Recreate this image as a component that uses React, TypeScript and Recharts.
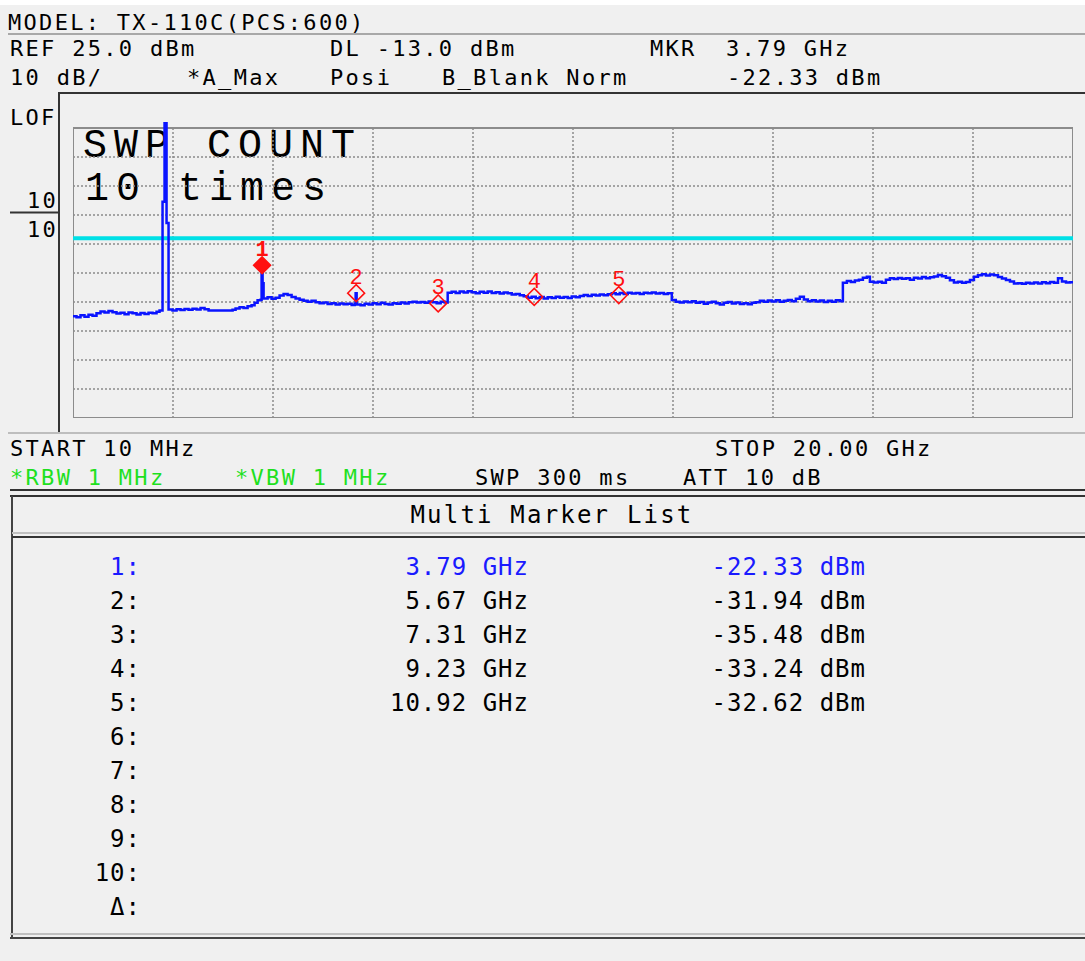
import {
  CartesianGrid,
  Line,
  LineChart,
  ReferenceArea,
  ReferenceDot,
  ReferenceLine,
  XAxis,
  YAxis,
} from "recharts";

// sweep trace: [GHz, dBm]
const sweep: [number, number][] = [
  [0.01, -39.9], [0.08, -40.3], [0.16, -39.6], [0.24, -40.1], [0.32, -39.4], [0.4, -39.7],
  [0.48, -38.9], [0.56, -38.3], [0.64, -38.6], [0.72, -38.1], [0.8, -38.5], [0.88, -39.0],
  [0.96, -38.7], [1.04, -39.2], [1.12, -38.6], [1.2, -38.9], [1.28, -39.3], [1.36, -38.8],
  [1.44, -39.1], [1.52, -38.7], [1.6, -38.9], [1.68, -38.4], [1.74, -37.9],
  [1.8, -0.4], [1.84, 26.6], [1.88, -7.8], [1.92, -37.6],
  [2.0, -37.9], [2.08, -37.5], [2.16, -37.8], [2.24, -37.4], [2.32, -37.7], [2.4, -37.3],
  [2.48, -37.6], [2.56, -37.1], [2.64, -37.5], [2.72, -37.9], [3.2, -37.7], [3.26, -37.2],
  [3.34, -36.8], [3.42, -37.1], [3.5, -36.5], [3.58, -36.1], [3.64, -35.3], [3.7, -34.4],
  [3.76, -34.2], [3.78, -22.33], [3.8, -28.5], [3.82, -33.8], [3.9, -33.4], [3.98, -33.9],
  [4.06, -33.5], [4.14, -32.8], [4.22, -32.2], [4.3, -32.6], [4.38, -33.3], [4.46, -33.8],
  [4.54, -34.2], [4.62, -34.6], [4.7, -34.9], [4.78, -34.6], [4.86, -35.1], [4.94, -35.4],
  [5.02, -35.2], [5.1, -35.7], [5.18, -35.4], [5.26, -35.9], [5.34, -35.5], [5.42, -35.8],
  [5.5, -35.6], [5.58, -36.0], [5.64, -35.7], [5.66, -31.94], [5.68, -35.9], [5.76, -36.1],
  [5.84, -35.6], [5.92, -35.9], [6.0, -35.4], [6.08, -35.8], [6.16, -35.3], [6.24, -35.7],
  [6.32, -35.9], [6.4, -35.4], [6.48, -35.6], [6.56, -35.2], [6.64, -35.5], [6.72, -35.1],
  [6.8, -34.9], [6.88, -35.2], [6.96, -35.0], [7.04, -35.3], [7.12, -34.8], [7.2, -35.1],
  [7.28, -35.4], [7.36, -34.9], [7.44, -35.2], [7.5, -31.8], [7.58, -31.5], [7.66, -31.9],
  [7.74, -31.4], [7.82, -31.7], [7.9, -31.3], [7.98, -31.6], [8.06, -32.0], [8.14, -31.5],
  [8.22, -31.8], [8.3, -31.4], [8.38, -31.9], [8.46, -31.6], [8.54, -32.1], [8.62, -31.7],
  [8.7, -32.0], [8.78, -32.4], [8.86, -32.2], [8.94, -32.7], [9.02, -33.0], [9.1, -33.5],
  [9.18, -33.2], [9.26, -33.7], [9.34, -33.3], [9.42, -33.8], [9.5, -33.4], [9.58, -33.6],
  [9.66, -33.2], [9.74, -33.5], [9.82, -33.3], [9.9, -33.6], [9.98, -33.1], [10.06, -33.4],
  [10.14, -32.9], [10.22, -32.6], [10.3, -32.9], [10.38, -32.5], [10.46, -32.8], [10.54, -32.4],
  [10.62, -32.7], [10.7, -32.3], [10.78, -32.0], [10.86, -32.3], [10.94, -31.9], [11.02, -32.2],
  [11.1, -31.8], [11.18, -32.1], [11.26, -31.9], [11.34, -32.2], [11.42, -31.8], [11.5, -32.0],
  [11.58, -31.7], [11.66, -32.1], [11.74, -31.9], [11.82, -32.2], [11.9, -32.0], [11.98, -34.3],
  [12.06, -34.9], [12.14, -35.2], [12.22, -34.8], [12.3, -35.1], [12.38, -34.7], [12.46, -35.3],
  [12.54, -35.0], [12.62, -35.6], [12.7, -35.2], [12.78, -34.9], [12.86, -35.4], [12.94, -35.9],
  [13.02, -35.3], [13.1, -35.0], [13.18, -35.5], [13.26, -35.2], [13.34, -35.7], [13.42, -35.4],
  [13.5, -35.8], [13.58, -35.3], [13.66, -35.1], [13.74, -34.6], [13.82, -34.9], [13.9, -34.5],
  [13.98, -34.8], [14.06, -34.4], [14.14, -34.9], [14.22, -34.6], [14.3, -34.3], [14.38, -34.7],
  [14.46, -33.9], [14.54, -33.2], [14.62, -34.1], [14.7, -34.7], [14.78, -34.4], [14.86, -34.8],
  [14.94, -34.5], [15.02, -35.0], [15.1, -34.6], [15.18, -34.9], [15.26, -34.4], [15.34, -34.7],
  [15.4, -28.4], [15.48, -27.8], [15.56, -28.1], [15.64, -27.6], [15.72, -27.3], [15.8, -26.6],
  [15.88, -26.3], [15.94, -28.0], [16.02, -28.3], [16.1, -28.0], [16.18, -28.4], [16.26, -27.3],
  [16.34, -26.8], [16.42, -27.1], [16.5, -26.7], [16.58, -27.0], [16.66, -26.8], [16.74, -27.3],
  [16.82, -26.6], [16.9, -26.9], [16.98, -26.4], [17.06, -26.8], [17.14, -26.5], [17.22, -26.2],
  [17.3, -25.7], [17.38, -26.1], [17.46, -26.6], [17.54, -27.5], [17.62, -28.3], [17.7, -28.0],
  [17.78, -28.4], [17.86, -28.1], [17.94, -27.4], [18.02, -26.3], [18.1, -25.8], [18.18, -25.4],
  [18.26, -25.9], [18.34, -25.5], [18.42, -25.8], [18.5, -26.4], [18.58, -26.9], [18.66, -27.4],
  [18.74, -27.9], [18.82, -28.6], [18.9, -28.5], [18.98, -28.7], [19.06, -28.4], [19.14, -28.6],
  [19.22, -28.3], [19.3, -28.6], [19.38, -28.2], [19.46, -28.5], [19.54, -28.1], [19.62, -28.4],
  [19.7, -26.8], [19.78, -27.9], [19.86, -28.3], [19.94, -28.2], [20.0, -28.2],
];

const markerNo = [1, 2, 3, 4, 5];
const markerGHz = [3.79, 5.67, 7.31, 9.23, 10.92];
const markerDbm = [-22.33, -31.94, -35.48, -33.24, -32.62];
const listLabels = ["1:", "2:", "3:", "4:", "5:", "6:", "7:", "8:", "9:", "10:", "Δ:"];

const startGHz = 0.01;
const stopGHz = 20;
const refDbm = 25;
const bottomDbm = -75;
const dlDbm = -13;
const gridGHz = [2.009, 4.008, 6.007, 8.006, 10.005, 12.004, 14.003, 16.002, 18.001];
const gridDbm = [15, 5, -5, -15, -25, -35, -45, -55, -65];

const data = sweep.map(([f, dbm]) => ({ f, dbm }));

const MONO = "'DejaVu Sans Mono', monospace";
const COUR = "'Liberation Mono', monospace";
const RED = "#ff1010";

function Txt({
  x,
  y,
  children,
  fill = "#000",
  size = 22,
  ls = 2.3,
  anchor = "start",
  family = MONO,
}: any) {
  return (
    <text
      x={x}
      y={y}
      fill={fill}
      fontSize={size}
      letterSpacing={ls}
      textAnchor={anchor}
      fontFamily={family}
    >
      {children}
    </text>
  );
}

function MarkerShape(props: any) {
  const { cx, cy, n } = props;
  const s = 8.5;
  const d = `M${cx},${cy - s} L${cx + s},${cy} L${cx},${cy + s} L${cx - s},${cy} Z`;
  const active = n === 1;
  return (
    <g>
      <path
        d={d}
        fill={active ? RED : "none"}
        stroke={RED}
        strokeWidth={1.5}
      />
      <text
        x={cx}
        y={cy - 9}
        fill={RED}
        fontSize={22}
        fontWeight={active ? "bold" : "normal"}
        fontFamily={COUR}
        textAnchor="middle"
      >
        {n}
      </text>
    </g>
  );
}

function Screen() {
  const rowY = (i: number) => 575 + i * 34;
  return (
    <svg width={1085} height={961} style={{ position: "absolute", left: 0, top: 0 }}>
      <rect x={0} y={0} width={1085} height={961} fill="#f0f0f0" />
      <rect x={0} y={0} width={1085} height={5} fill="#ffffff" />

      {/* frame lines */}
      <line x1={8} y1={34} x2={1085} y2={34} stroke="#a8a8a8" strokeWidth={2} />
      <line x1={59} y1={93} x2={1085} y2={93} stroke="#333" strokeWidth={2} />
      <line x1={59} y1={92} x2={59} y2={432} stroke="#333" strokeWidth={2} />
      <line x1={10} y1={212.5} x2={59} y2={212.5} stroke="#333" strokeWidth={2} />
      <line x1={8} y1={433} x2={1085} y2={433} stroke="#bdbdbd" strokeWidth={2} />
      <line x1={10} y1={490} x2={1085} y2={490} stroke="#333" strokeWidth={2} />
      <line x1={10} y1={496} x2={1085} y2={496} stroke="#333" strokeWidth={2} />
      <line x1={12} y1={496} x2={12} y2={938} stroke="#444" strokeWidth={2} />
      <line x1={12} y1={533} x2={1085} y2={533} stroke="#c0c0c0" strokeWidth={2} />
      <line x1={12} y1={537} x2={1085} y2={537} stroke="#333" strokeWidth={2} />
      <line x1={10} y1={934} x2={1085} y2={934} stroke="#c0c0c0" strokeWidth={2} />
      <line x1={10} y1={938} x2={1085} y2={938} stroke="#444" strokeWidth={2} />

      {/* header */}
      <Txt x={8} y={30}>MODEL: TX-110C(PCS:600)</Txt>
      <Txt x={10} y={56}>REF 25.0 dBm</Txt>
      <Txt x={330} y={56}>DL -13.0 dBm</Txt>
      <Txt x={650} y={56}>MKR</Txt>
      <Txt x={726} y={56}>3.79 GHz</Txt>
      <Txt x={10} y={85}>10 dB/</Txt>
      <Txt x={187} y={85}>*A_Max</Txt>
      <Txt x={330} y={85}>Posi</Txt>
      <Txt x={442} y={85}>B_Blank Norm</Txt>
      <Txt x={727} y={85}>-22.33 dBm</Txt>

      {/* left scale box */}
      <Txt x={10} y={125}>LOF</Txt>
      <Txt x={58} y={208} anchor="end">10</Txt>
      <Txt x={58} y={237} anchor="end">10</Txt>

      {/* sweep count overlay */}
      <Txt x={83} y={157} size={40} ls={7} family={COUR}>SWP COUNT</Txt>
      <Txt x={85} y={200} size={40} ls={7} family={COUR}>10 times</Txt>

      {/* footer of graticule */}
      <Txt x={10} y={456}>START 10 MHz</Txt>
      <Txt x={715} y={456}>STOP 20.00 GHz</Txt>
      <Txt x={10} y={485} fill="#1ee01e">*RBW 1 MHz</Txt>
      <Txt x={235} y={485} fill="#1ee01e">*VBW 1 MHz</Txt>
      <Txt x={475} y={485}>SWP 300 ms</Txt>
      <Txt x={683} y={485}>ATT 10 dB</Txt>

      <Txt x={552} y={523} anchor="middle" size={24} ls={2.2}>Multi Marker List</Txt>

      {/* marker list */}
      {listLabels.map((lab, i) => {
        const active = i === 0;
        const col = active ? "#1a1aff" : "#000";
        return (
          <g key={lab}>
            <Txt x={141} y={rowY(i)} anchor="end" size={24} ls={1} fill={col}>
              {lab}
            </Txt>
            {i < markerGHz.length && (
              <Txt x={529} y={rowY(i)} anchor="end" size={24} ls={1} fill={col}>
                {`${markerGHz[i].toFixed(2)} GHz`}
              </Txt>
            )}
            {i < markerDbm.length && (
              <Txt x={866} y={rowY(i)} anchor="end" size={24} ls={1} fill={col}>
                {`${markerDbm[i].toFixed(2)} dBm`}
              </Txt>
            )}
          </g>
        );
      })}
    </svg>
  );
}

export default function App() {
  // plot area runs from 120px (a little headroom above REF) to 418px
  const headroom = 2.76;
  return (
    <div
      style={{
        position: "absolute",
        left: 0,
        top: 0,
        width: 1085,
        height: 961,
        overflow: "hidden",
      }}
    >
      <Screen />
      <div style={{ position: "absolute", left: 73, top: 120 }}>
        <LineChart
          width={1000}
          height={298}
          data={data}
          margin={{ top: 0, right: 0, bottom: 0, left: 0 }}
        >
          <XAxis
            hide
            type="number"
            dataKey="f"
            domain={[startGHz, stopGHz]}
            allowDataOverflow
          />
          <YAxis hide domain={[bottomDbm, refDbm + headroom]} allowDataOverflow />
          <CartesianGrid
            vertical={false}
            horizontalValues={gridDbm}
            stroke="#8a8a8a"
            strokeWidth={1.5}
            strokeDasharray="2 2"
          />
          {gridGHz.map((g) => (
            <ReferenceLine
              key={g}
              segment={[
                { x: g, y: bottomDbm },
                { x: g, y: refDbm },
              ]}
              stroke="#8a8a8a"
              strokeWidth={1.5}
              strokeDasharray="2 2"
            />
          ))}
          <ReferenceArea
            x1={startGHz}
            x2={stopGHz}
            y1={bottomDbm}
            y2={refDbm}
            fill="none"
            fillOpacity={0}
            stroke="#8c8c8c"
            strokeWidth={2}
          />
          <ReferenceLine y={dlDbm} stroke="#00e0e6" strokeWidth={4} />
          <Line
            type="stepAfter"
            dataKey="dbm"
            stroke="#0a14ff"
            strokeWidth={2.5}
            dot={false}
            isAnimationActive={false}
          />
          {markerNo.map((n, i) => (
            <ReferenceDot
              key={n}
              x={markerGHz[i]}
              y={markerDbm[i]}
              r={8}
              shape={(p: any) => <MarkerShape {...p} n={n} />}
            />
          ))}
        </LineChart>
      </div>
    </div>
  );
}
